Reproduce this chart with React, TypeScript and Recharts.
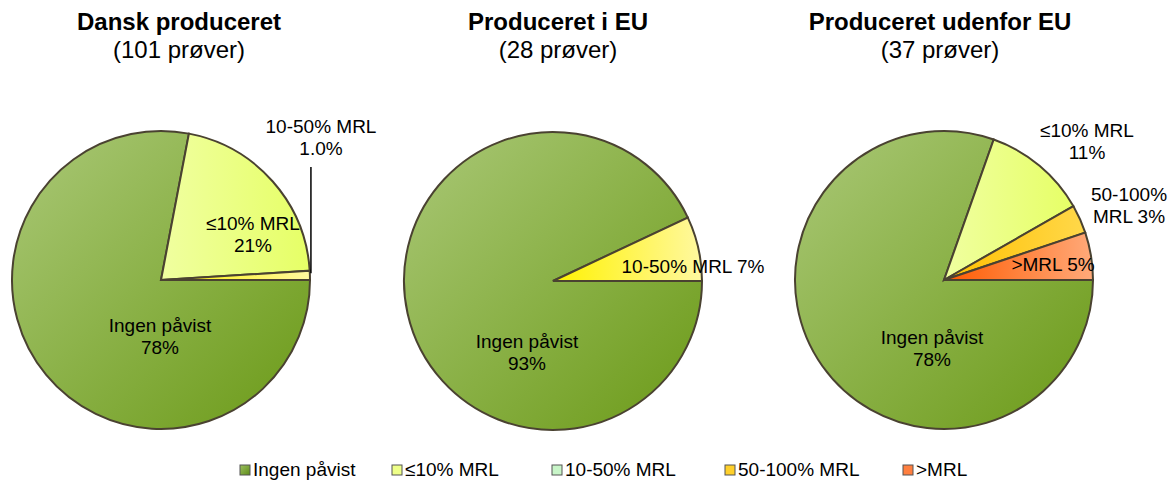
import React from 'react';
import { PieChart, Pie, Cell } from 'recharts';

// ---------- data ----------
const categories = ['Ingen påvist', '≤10% MRL', '10-50% MRL', '50-100% MRL', '>MRL'];

const titles = ['Dansk produceret', 'Produceret i EU', 'Produceret udenfor EU'];
const subtitles = ['(101 prøver)', '(28 prøver)', '(37 prøver)'];

const danskValues = [78, 21, 1, 0, 0];
const euValues = [93, 0, 7, 0, 0];
const udenforValues = [78, 11, 0, 3, 5];

const danskLabels = [['Ingen påvist', '78%'], ['≤10% MRL', '21%'], ['10-50% MRL', '1.0%'], [], []];
const euLabels = [['Ingen påvist', '93%'], [], ['10-50% MRL 7%'], [], []];
const udenforLabels = [['Ingen påvist', '78%'], ['≤10% MRL', '11%'], [], ['50-100%', 'MRL 3%'], ['>MRL 5%']];

// ---------- styles / layout ----------
const W = 1171;
const H = 481;
const R = 149;
const FONT = '"Liberation Sans", Arial, sans-serif';
const STROKE = '#4a4231';

const sliceFill = ['url(#gIngen)', 'url(#gLe10)', 'url(#g1050)', 'url(#g50100)', 'url(#gMrl)'];
const legendFill = ['url(#gIngenL)', '#eeff88', '#c8f5c8', '#ffd02a', '#ff7f3f'];
const legendX = [240, 392, 552, 725, 903];

// label offsets (dx center, dy baseline of first line) relative to pie centre
const pieLayouts = [
  {
    cx: 161, cy: 280, titleX: 179,
    labelPos: [[-1, 52], [92, -50], [160, -147], [0, 0], [0, 0]],
    leader: [false, false, true, false, false],
  },
  {
    cx: 553, cy: 281, titleX: 558,
    labelPos: [[-26, 67], [0, 0], [140, -8], [0, 0], [0, 0]],
    leader: [false, false, false, false, false],
  },
  {
    cx: 944, cy: 280, titleX: 940,
    labelPos: [[-12, 64], [143, -143], [0, 0], [185, -79], [109, -9]],
    leader: [false, false, false, false, false],
  },
];

const allValues = [danskValues, euValues, udenforValues];
const allLabels = [danskLabels, euLabels, udenforLabels];

const pieData = allValues.map((vals, p) =>
  vals
    .map((v, i) => ({ name: categories[i], value: v, cat: i, lines: allLabels[p][i] }))
    .filter((d) => d.value > 0)
);

const RAD = Math.PI / 180;

const makeLabel = (p: number) => (props: any) => {
  const { cx, cy, midAngle, outerRadius, index } = props;
  const d = pieData[p][index];
  if (!d) return null;
  const [dx, dy] = pieLayouts[p].labelPos[d.cat];
  const x = cx + dx;
  const y0 = cy + dy;
  const lines: string[] = d.lines;
  let leader = null;
  if (pieLayouts[p].leader[d.cat]) {
    const ox = cx + outerRadius * Math.cos(-midAngle * RAD);
    const oy = cy + outerRadius * Math.sin(-midAngle * RAD);
    leader = (
      <line x1={ox + 1} y1={y0 + (lines.length - 1) * 22 + 12} x2={ox + 1} y2={oy - 2} stroke="#000" strokeWidth={1.5} />
    );
  }
  return (
    <g key={`lbl-${p}-${index}`}>
      {leader}
      <text x={x} y={y0} textAnchor="middle" fontFamily={FONT} fontSize={19} fill="#000">
        {lines.map((t, k) => (
          <tspan key={k} x={x} dy={k === 0 ? 0 : 22}>
            {t}
          </tspan>
        ))}
      </text>
    </g>
  );
};

export default function App() {
  return (
    <div style={{ position: 'absolute', left: 0, top: 0, width: W, height: H, background: '#fff' }}>
      <PieChart width={W} height={H} margin={{ top: 0, right: 0, bottom: 0, left: 0 }}>
        <defs>
          <linearGradient id="gIngen" x1="0" y1="0" x2="1" y2="1">
            <stop offset="0%" stopColor="#aac877" />
            <stop offset="100%" stopColor="#6b9a17" />
          </linearGradient>
          <linearGradient id="gIngenL" x1="0" y1="0" x2="1" y2="1">
            <stop offset="0%" stopColor="#9cc060" />
            <stop offset="100%" stopColor="#5e8c18" />
          </linearGradient>
          <linearGradient id="gLe10" x1="0" y1="0" x2="1" y2="0">
            <stop offset="0%" stopColor="#f0ffa0" />
            <stop offset="100%" stopColor="#e6ff66" />
          </linearGradient>
          <linearGradient id="g1050" x1="0" y1="0" x2="1" y2="0">
            <stop offset="0%" stopColor="#fff200" />
            <stop offset="100%" stopColor="#fff8a0" />
          </linearGradient>
          <linearGradient id="g50100" x1="0" y1="0" x2="1" y2="0">
            <stop offset="0%" stopColor="#ffc000" />
            <stop offset="100%" stopColor="#ffd84a" />
          </linearGradient>
          <linearGradient id="gMrl" x1="0" y1="0" x2="1" y2="0">
            <stop offset="0%" stopColor="#ff5a00" />
            <stop offset="100%" stopColor="#ffaa7a" />
          </linearGradient>
        </defs>

        {titles.map((t, i) => (
          <g key={`t-${i}`}>
            <text x={pieLayouts[i].titleX} y={30} textAnchor="middle" fontFamily={FONT} fontSize={24} fontWeight="bold" fill="#000">
              {t}
            </text>
            <text x={pieLayouts[i].titleX} y={58} textAnchor="middle" fontFamily={FONT} fontSize={24} fill="#000">
              {subtitles[i]}
            </text>
          </g>
        ))}

        {pieData.map((data, p) => (
          <Pie
            key={`pie-${p}`}
            data={data}
            dataKey="value"
            nameKey="name"
            cx={pieLayouts[p].cx}
            cy={pieLayouts[p].cy}
            innerRadius={0}
            outerRadius={R}
            startAngle={0}
            endAngle={-360}
            stroke={STROKE}
            strokeWidth={2}
            isAnimationActive={false}
            label={makeLabel(p)}
            labelLine={false}
          >
            {data.map((d, i) => (
              <Cell key={`c-${p}-${i}`} fill={sliceFill[d.cat]} stroke={STROKE} strokeWidth={2} />
            ))}
          </Pie>
        ))}

        {categories.map((c, i) => (
          <g key={`lg-${i}`}>
            <rect x={legendX[i]} y={465} width={10} height={10} fill={legendFill[i]} stroke="#555" strokeWidth={1} />
            <text x={legendX[i] + 13} y={476} fontFamily={FONT} fontSize={19} fill="#000">
              {c}
            </text>
          </g>
        ))}
      </PieChart>
    </div>
  );
}
